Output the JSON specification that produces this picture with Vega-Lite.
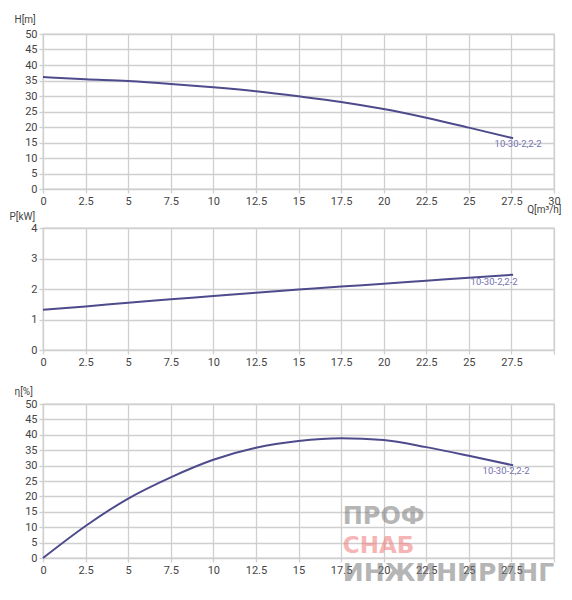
{
  "$schema": "https://vega.github.io/schema/vega-lite/v6.json",
  "background": "white",
  "padding": {"left": 8, "top": 13, "right": 5, "bottom": 5},
  "bounds": "flush",
  "spacing": 0,
  "datasets": {
    "head": [
      {"q": 0, "v": 36.1}, {"q": 2.5, "v": 35.4}, {"q": 5, "v": 34.8},
      {"q": 7.5, "v": 33.9}, {"q": 10, "v": 32.8}, {"q": 12.5, "v": 31.5},
      {"q": 15, "v": 29.9}, {"q": 17.5, "v": 28.1}, {"q": 20, "v": 25.8},
      {"q": 22.5, "v": 23.0}, {"q": 25, "v": 19.8}, {"q": 27.6, "v": 16.4}
    ],
    "power": [
      {"q": 0, "v": 1.32}, {"q": 2.5, "v": 1.43}, {"q": 5, "v": 1.55},
      {"q": 7.5, "v": 1.66}, {"q": 10, "v": 1.77}, {"q": 12.5, "v": 1.88},
      {"q": 15, "v": 1.98}, {"q": 17.5, "v": 2.08}, {"q": 20, "v": 2.17},
      {"q": 22.5, "v": 2.27}, {"q": 25, "v": 2.37}, {"q": 27.6, "v": 2.47}
    ],
    "eff": [
      {"q": 0, "v": 0}, {"q": 2.5, "v": 10.4}, {"q": 5, "v": 19.3},
      {"q": 7.5, "v": 26.2}, {"q": 10, "v": 31.9}, {"q": 12.5, "v": 35.8},
      {"q": 15, "v": 38.0}, {"q": 17.5, "v": 38.9}, {"q": 20, "v": 38.3},
      {"q": 22.5, "v": 36.0}, {"q": 25, "v": 33.2}, {"q": 27.6, "v": 30.1}
    ],
    "mark_h": [{"q": 27.6, "v": 16.4, "label": "10-30-2,2-2"}],
    "mark_p": [{"q": 27.6, "v": 2.47, "label": "10-30-2,2-2"}],
    "mark_e": [{"q": 27.6, "v": 30.1, "label": "10-30-2,2-2"}],
    "watermark": [
      {"q": 17.6, "v": 13.4, "word": "ПРОФ"},
      {"q": 17.6, "v": 3.9, "word": "СНАБ"},
      {"q": 17.6, "v": -4.8, "word": "ИНЖИНИРИНГ"}
    ]
  },
  "vconcat": [
    {
      "width": 511,
      "height": 155,
      "data": {"name": "head"},
      "encoding": {
        "x": {
          "field": "q", "type": "quantitative",
          "scale": {"domain": [0, 30], "nice": false},
          "axis": {
            "values": [0, 2.5, 5, 7.5, 10, 12.5, 15, 17.5, 20, 22.5, 25, 27.5, 30],
            "format": ".3~g",
            "title": "Q[m³/h]", "titleAlign": "right", "titleAnchor": null,
            "titleX": 518, "titleY": 20, "titleBaseline": "middle"
          }
        },
        "y": {
          "field": "v", "type": "quantitative",
          "scale": {"domain": [0, 50], "nice": false},
          "axis": {
            "values": [0, 5, 10, 15, 20, 25, 30, 35, 40, 45, 50],
            "title": "H[m]", "titleX": -29, "titleY": -15
          }
        }
      },
      "layer": [
        {"mark": {"type": "line", "interpolate": "monotone", "color": "#4e4b8c", "strokeWidth": 2}},
        {
          "data": {"name": "mark_h"},
          "mark": {"type": "text", "color": "#7471b0", "fontSize": 9.5, "align": "center", "baseline": "middle", "dx": 5, "dy": 6},
          "encoding": {"text": {"field": "label"}}
        }
      ]
    },
    {
      "width": 511, "height": 39,
      "data": {"values": []},
      "mark": "point",
      "encoding": {},
      "view": {"stroke": null}
    },
    {
      "width": 511,
      "height": 122,
      "data": {"name": "power"},
      "encoding": {
        "x": {
          "field": "q", "type": "quantitative",
          "scale": {"domain": [0, 30], "nice": false},
          "axis": {
            "values": [0, 2.5, 5, 7.5, 10, 12.5, 15, 17.5, 20, 22.5, 25, 27.5, 30],
            "format": ".3~g",
            "labelExpr": "datum.value == 30 ? '' : datum.label",
            "title": null
          }
        },
        "y": {
          "field": "v", "type": "quantitative",
          "scale": {"domain": [0, 4], "nice": false},
          "axis": {
            "values": [0, 1, 2, 3, 4],
            "title": "P[kW]", "titleX": -34, "titleY": -12
          }
        }
      },
      "layer": [
        {"mark": {"type": "line", "interpolate": "monotone", "color": "#4e4b8c", "strokeWidth": 2}},
        {
          "data": {"name": "mark_p"},
          "mark": {"type": "text", "color": "#7471b0", "fontSize": 9.5, "align": "center", "baseline": "middle", "dx": -19, "dy": 7},
          "encoding": {"text": {"field": "label"}}
        }
      ]
    },
    {
      "width": 511, "height": 54,
      "data": {"values": []},
      "mark": "point",
      "encoding": {},
      "view": {"stroke": null}
    },
    {
      "width": 511,
      "height": 154,
      "data": {"name": "eff"},
      "encoding": {
        "x": {
          "field": "q", "type": "quantitative",
          "scale": {"domain": [0, 30], "nice": false},
          "axis": {
            "values": [0, 2.5, 5, 7.5, 10, 12.5, 15, 17.5, 20, 22.5, 25, 27.5, 30],
            "format": ".3~g",
            "labelExpr": "datum.value == 30 ? '' : datum.label",
            "title": null
          }
        },
        "y": {
          "field": "v", "type": "quantitative",
          "scale": {"domain": [0, 50], "nice": false},
          "axis": {
            "values": [0, 5, 10, 15, 20, 25, 30, 35, 40, 45, 50],
            "title": "η[%]", "titleX": -29, "titleY": -13
          }
        }
      },
      "layer": [
        {
          "data": {"name": "watermark"},
          "mark": {"type": "text", "align": "left", "baseline": "middle", "font": "DejaVu Sans", "fontWeight": "bold", "opacity": 0.55, "clip": false},
          "encoding": {
            "text": {"field": "word"},
            "color": {
              "field": "word", "type": "nominal", "legend": null,
              "scale": {"domain": ["ПРОФ", "СНАБ", "ИНЖИНИРИНГ"], "range": ["#7a7a7a", "#f07a7a", "#7a7a7a"]}
            },
            "size": {
              "field": "word", "type": "nominal", "legend": null,
              "scale": {"type": "ordinal", "domain": ["ПРОФ", "СНАБ", "ИНЖИНИРИНГ"], "range": [24, 23, 25]}
            }
          }
        },
        {"mark": {"type": "line", "interpolate": "monotone", "color": "#4e4b8c", "strokeWidth": 2}},
        {
          "data": {"name": "mark_e"},
          "mark": {"type": "text", "color": "#7471b0", "fontSize": 9.5, "align": "center", "baseline": "middle", "dx": -7, "dy": 6},
          "encoding": {"text": {"field": "label"}}
        }
      ]
    }
  ],
  "config": {
    "font": "Roboto",
    "view": {"stroke": "#cfcfcf", "strokeWidth": 1.3},
    "axis": {
      "domain": false,
      "grid": true,
      "gridColor": "#cfcfcf",
      "gridWidth": 1.3,
      "gridOpacity": 1,
      "ticks": true,
      "tickColor": "#cfcfcf",
      "tickSize": 4,
      "tickWidth": 1.3,
      "labelColor": "#444444",
      "labelFontSize": 11,
      "labelPadding": 2,
      "labelFlush": false,
      "labelOverlap": false,
      "titleColor": "#444444",
      "titleFontSize": 10,
      "titleFontWeight": "normal",
      "titleAngle": 0,
      "titleAlign": "left",
      "titleBaseline": "middle"
    }
  }
}
